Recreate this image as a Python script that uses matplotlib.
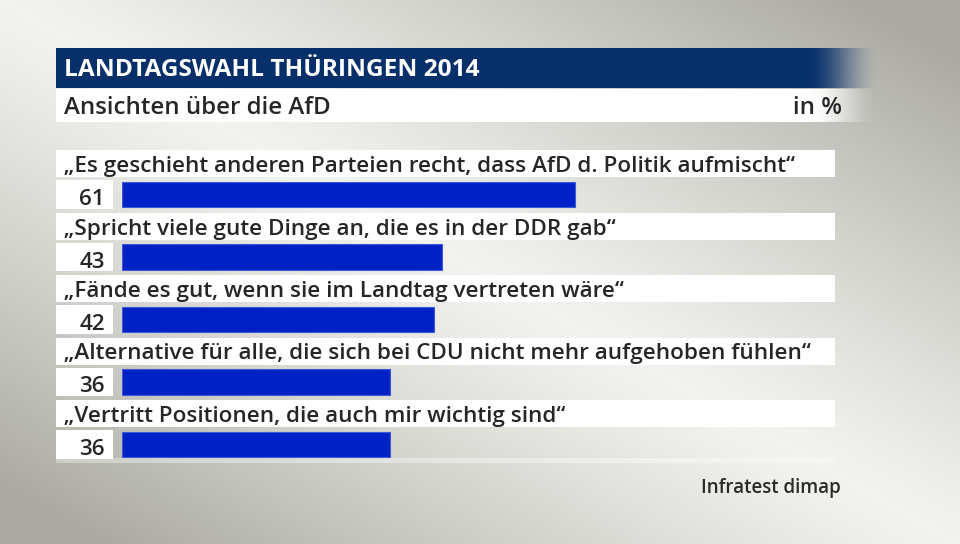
import matplotlib
matplotlib.use('Agg')

import numpy as np
import matplotlib.pyplot as plt
from matplotlib.patches import Rectangle

plt.rcParams['font.family'] = ['Open Sans', 'DejaVu Sans']

# Chart content
title = "LANDTAGSWAHL THÜRINGEN 2014"
subtitle = "Ansichten über die AfD"
unit = "in %"
source = "Infratest dimap"
labels = [
    "„Es geschieht anderen Parteien recht, dass AfD d. Politik aufmischt“",
    "„Spricht viele gute Dinge an, die es in der DDR gab“",
    "„Fände es gut, wenn sie im Landtag vertreten wäre“",
    "„Alternative für alle, die sich bei CDU nicht mehr aufgehoben fühlen“",
    "„Vertritt Positionen, die auch mir wichtig sind“",
]
values = [61, 43, 42, 36, 36]

W, H = 960, 544
fig = plt.figure(figsize=(W / 100, H / 100), dpi=100)

# background axes in pixel coordinates
bg = fig.add_axes([0, 0, 1, 1])
bg.set_xlim(0, W)
bg.set_ylim(H, 0)
bg.axis('off')

# glossy gray background: light along the main diagonal, darker in the other corners
yy, xx = np.mgrid[0:H, 0:W]
d = np.abs(xx * H - yy * W) / np.hypot(W, H)
t = np.clip(d / 420, 0, 1) ** 1.2
light = np.array([0.95, 0.95, 0.935])
dark = np.array([0.67, 0.67, 0.64])
img = light[None, None, :] * (1 - t[..., None]) + dark[None, None, :] * t[..., None]
bg.imshow(img, extent=[0, W, H, 0], aspect='auto', zorder=0)

# header band and subtitle strip, fading out on the right
def faded_band(y0, y1, color, x0=56, x_fade=808, x1=880):
    n = int(x1 - x0)
    xs = np.linspace(x0, x1, n)
    s = np.clip((xs - x_fade) / (x1 - x_fade), 0, 1)
    alpha = 1 - (3 * s ** 2 - 2 * s ** 3)
    band = np.zeros((1, n, 4))
    band[..., :3] = matplotlib.colors.to_rgb(color)
    band[0, :, 3] = alpha
    bg.imshow(band, extent=[x0, x1, y1, y0], aspect='auto', interpolation='nearest', zorder=1)

faded_band(49, 88.5, '#07306b')
faded_band(89.5, 122.5, '#ffffff')

bg.text(64, 76, title, color='white', fontsize=17.6, fontweight='bold', zorder=3)
bg.text(64, 114, subtitle, color='#262626', fontsize=17.3, fontweight='semibold', zorder=3)
bg.text(842, 114, unit, color='#262626', fontsize=17.3, fontweight='semibold', ha='right', zorder=3)
bg.text(841, 493, source, color='#2a2a2a', fontsize=13.5, fontweight='semibold', ha='right', zorder=3)

# rows: label strip, value box
row0, pitch = 194.5, 62.5
for i, (lab, v) in enumerate(zip(labels, values)):
    yc = row0 + pitch * i
    bg.add_patch(Rectangle((56, yc - 44.5), 779, 27, color='white', lw=0, zorder=1))
    bg.add_patch(Rectangle((56, yc - 14.5), 57, 28.5, color='white', lw=0, zorder=1))
    bg.text(64, yc - 22.5, lab, color='#262626', fontsize=16.2, fontweight='semibold', zorder=3)
    bg.text(105, yc + 10.5, str(v), color='#262626', fontsize=16.2, fontweight='semibold',
            ha='right', zorder=3)

# faint light strip under the last row
bg.add_patch(Rectangle((56, row0 + pitch * 4 + 13), 779, 5, color='white', alpha=0.35, lw=0, zorder=1))

# bars on their own axes
px_per_unit = 7.42
bx0, bx1 = 122.5, 835
top = row0 - pitch / 2
bot = row0 + pitch * 4.5
ax = fig.add_axes([bx0 / W, 1 - bot / H, (bx1 - bx0) / W, (bot - top) / H])
ax.set_xlim(0, (bx1 - bx0) / px_per_unit)
ax.set_ylim(len(values) - 0.5, -0.5)
ax.axis('off')
ax.patch.set_alpha(0)
ax.barh(range(len(values)), values, height=25.5 / pitch, left=0, color='#0021c6',
        edgecolor='#3a5ad8', linewidth=0.8)

fig.savefig('out.png', dpi=100)
